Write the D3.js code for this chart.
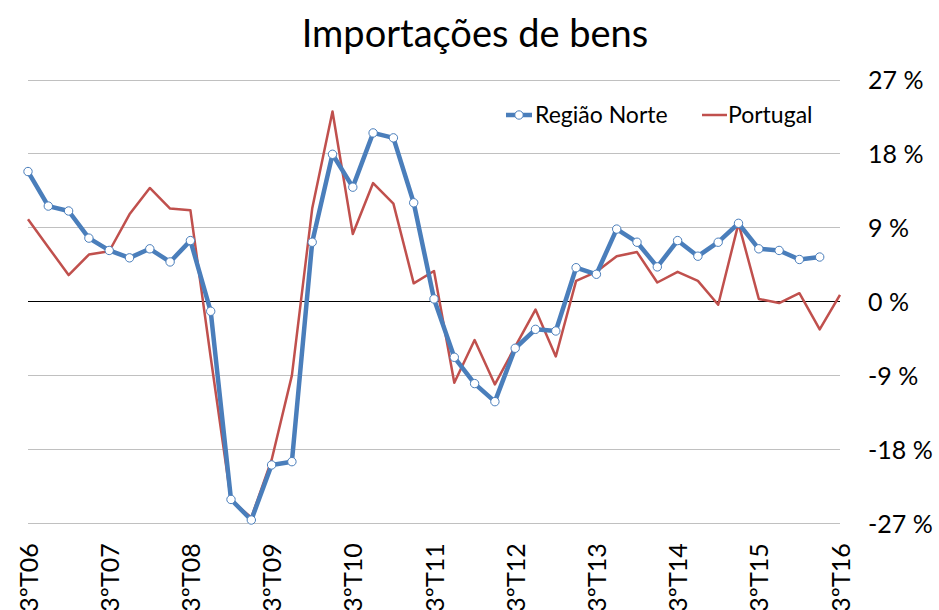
<!DOCTYPE html>
<html>
<head>
<meta charset="utf-8">
<script src="https://cdn.jsdelivr.net/npm/d3@7"></script>
<style>
  body { margin: 0; background: #fff; }
  svg { font-family: Lato, "Open Sans", sans-serif; }
</style>
</head>
<body>
<div id="chart"></div>
<script>
// quarterly periods, 3ºT06 .. 3ºT16
const years = ['06','07','08','09','10','11','12','13','14','15','16'];
const periods = d3.range(41);
const tickLabels = years.map(y => `3ºT${y}`);

const norte = [15.8, 11.6, 11.0, 7.7, 6.2, 5.3, 6.4, 4.8, 7.4, -1.2,
  -24.1, -26.6, -19.9, -19.5, 7.2, 17.9, 13.9, 20.5, 19.9, 12.0,
  0.3, -6.8, -10.0, -12.2, -5.7, -3.4, -3.6, 4.1, 3.3, 8.8,
  7.2, 4.2, 7.4, 5.5, 7.2, 9.5, 6.4, 6.2, 5.1, 5.4];
const portugal = [10.0, 6.6, 3.2, 5.7, 6.1, 10.6, 13.8, 11.3, 11.1, -6.8,
  -24.2, -26.3, -19.3, -9.0, 11.3, 23.1, 8.2, 14.4, 11.9, 2.2,
  3.7, -9.9, -4.7, -10.1, -5.5, -1.0, -6.7, 2.5, 3.6, 5.5,
  6.0, 2.3, 3.6, 2.5, -0.4, 9.5, 0.3, -0.2, 1.0, -3.4, 0.8];
const yTicks = [-27, -18, -9, 0, 9, 18, 27];

const width = 939, height = 610;
const margin = { top: 79.5, right: 99, bottom: 86.7, left: 28 };
const blue = '#4a7ebb', red = '#c0504d';

const svg = d3.select('#chart').append('svg')
  .attr('width', width).attr('height', height);

const x = d3.scalePoint().domain(periods)
  .range([margin.left, width - margin.right]);
const y = d3.scaleLinear().domain([-27, 27])
  .range([height - margin.bottom, margin.top]);

// grid
svg.append('g').selectAll('line')
  .data(yTicks.filter(d => d !== 0))
  .join('line')
  .attr('x1', margin.left).attr('x2', width - margin.right)
  .attr('y1', d => Math.round(y(d)) + 0.5).attr('y2', d => Math.round(y(d)) + 0.5)
  .attr('stroke', '#c0c0c0').attr('stroke-width', 1);

svg.append('line')
  .attr('x1', margin.left).attr('x2', width - margin.right)
  .attr('y1', Math.round(y(0)) + 0.5).attr('y2', Math.round(y(0)) + 0.5)
  .attr('stroke', '#000').attr('stroke-width', 1);

// y axis on the right
const yAxis = d3.axisRight(y).tickValues(yTicks).tickSize(0)
  .tickFormat(d => `${d} %`);
svg.append('g')
  .attr('transform', `translate(${width - margin.right + 28},0)`)
  .call(yAxis)
  .call(g => g.select('.domain').remove())
  .call(g => g.selectAll('text')
    .attr('x', 0).attr('dy', '0.35em')
    .attr('font-size', 25).attr('fill', '#000')
    .style('font-family', 'Lato, sans-serif'));

// x labels
const xAxis = d3.axisBottom(x)
  .tickValues(periods.filter(d => d % 4 === 0))
  .tickSize(0)
  .tickFormat(d => tickLabels[d / 4]);
svg.append('g')
  .attr('transform', `translate(0,${height - margin.bottom})`)
  .call(xAxis)
  .call(g => g.select('.domain').remove())
  .call(g => g.selectAll('text')
    .attr('transform', 'rotate(-90)')
    .attr('x', -20).attr('y', 0).attr('dy', '0.36em')
    .attr('text-anchor', 'end')
    .attr('font-size', 25).attr('fill', '#000')
    .style('font-family', 'Lato, sans-serif'));

const line = d3.line().x((d, i) => x(i)).y(d => y(d));

svg.append('path').datum(portugal)
  .attr('d', line).attr('fill', 'none')
  .attr('stroke', red).attr('stroke-width', 2.5)
  .attr('stroke-linejoin', 'round');

svg.append('path').datum(norte)
  .attr('d', line).attr('fill', 'none')
  .attr('stroke', blue).attr('stroke-width', 4.5)
  .attr('stroke-linejoin', 'round');

svg.append('g').selectAll('circle')
  .data(norte)
  .join('circle')
  .attr('cx', (d, i) => x(i)).attr('cy', d => y(d))
  .attr('r', 4.2)
  .attr('fill', '#fff').attr('stroke', blue).attr('stroke-width', 1);

// title
svg.append('text')
  .attr('x', 475).attr('y', 47)
  .attr('text-anchor', 'middle')
  .attr('font-size', 38).attr('fill', '#000')
  .text('Importações de bens');

// legend
const legend = svg.append('g').attr('transform', 'translate(506,115)');
legend.append('line').attr('x1', 0).attr('x2', 26)
  .attr('stroke', blue).attr('stroke-width', 4.5);
legend.append('circle').attr('cx', 13).attr('r', 4.2)
  .attr('fill', '#fff').attr('stroke', blue).attr('stroke-width', 1);
legend.append('text').attr('x', 29).attr('dy', '0.35em')
  .attr('font-size', 23).text('Região Norte');
legend.append('line').attr('x1', 196).attr('x2', 221)
  .attr('stroke', red).attr('stroke-width', 2.5);
legend.append('text').attr('x', 222).attr('dy', '0.35em')
  .attr('font-size', 23).text('Portugal');
</script>
</body>
</html>
